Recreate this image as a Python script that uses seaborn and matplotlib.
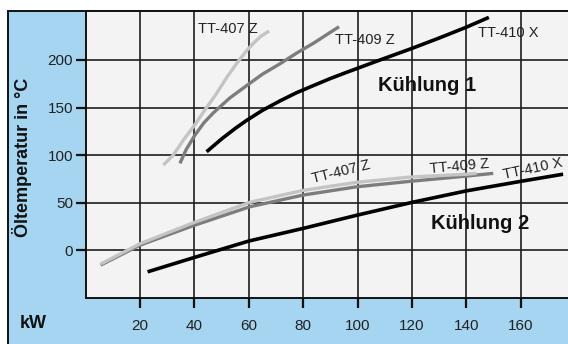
import pandas as pd
import matplotlib.pyplot as plt
import seaborn as sns
from matplotlib.patches import Rectangle


# Kühlung 1
k1_407_x = [28.6, 32.2, 36, 40.2, 44, 48.2, 52, 56.1, 59, 61.7, 64.5, 67.5]
k1_407_y = [89.6, 100, 116, 132, 148, 165, 182, 198.5, 209, 217.5, 225, 230.4]
k1_409_x = [34.7, 37, 40.2, 43.5, 47, 53, 59.2, 65, 71.5, 77.5, 83.7, 93.2]
k1_409_y = [91.4, 106, 121, 134, 144.5, 160, 173, 185, 196, 207, 217.4, 234.9]
k1_410_x = [44.5, 50, 55, 59.2, 65, 71.5, 77.5, 83.7, 90, 96, 108.3, 119.9, 130, 140.1, 148.3]
k1_410_y = [103.6, 117, 128, 136.5, 147, 157, 165.5, 173, 180.5, 187, 200, 212, 223, 234.5, 244.7]

# Kühlung 2
k2_407_x = [5.5, 20, 39.6, 60.4, 80, 99.7, 119.3, 140, 143.8]
k2_407_y = [-14.4, 7, 29, 50.5, 63, 71.5, 77, 80, 80.9]
k2_409_x = [5.5, 20, 39.6, 60.4, 80, 99.7, 119.3, 140, 149.9]
k2_409_y = [-15.5, 5.5, 26, 45.8, 58.1, 66.8, 72.5, 78, 80.9]
k2_410_x = [22.8, 40, 60, 80, 100, 120, 140, 160, 175.6]
k2_410_y = [-22.5, -7.4, 9.8, 23.1, 37.1, 50.4, 62.5, 72.5, 80]

x_ticks = [20, 40, 60, 80, 100, 120, 140, 160]
y_ticks = [0, 50, 100, 150, 200]

curves = {
    "k1_407": (k1_407_x, k1_407_y),
    "k1_409": (k1_409_x, k1_409_y),
    "k1_410": (k1_410_x, k1_410_y),
    "k2_407": (k2_407_x, k2_407_y),
    "k2_409": (k2_409_x, k2_409_y),
    "k2_410": (k2_410_x, k2_410_y),
}
rows = []
for name, (xs, ys) in curves.items():
    for xv, yv in zip(xs, ys):
        rows.append({"curve": name, "kw": xv, "temp": yv})
df = pd.DataFrame(rows)

light = "#c4c4c4"
mid = "#7d7d7d"
palette = {"k1_407": light, "k1_409": mid, "k1_410": "#000000",
           "k2_407": light, "k2_409": mid, "k2_410": "#000000"}

sns.set_style("ticks")
plt.rcParams['font.family'] = ['Liberation Sans', 'DejaVu Sans']

W, H = 568, 344
fig = plt.figure(figsize=(W / 100, H / 100), dpi=100)
fig.patch.set_facecolor("white")

# blue frame behind the plot
fig.patches.append(Rectangle((8 / W, -0.01), 1.0, 1 - 11 / H + 0.01, transform=fig.transFigure,
                             facecolor="#a5d5f1", edgecolor="#111111", linewidth=1.4,
                             zorder=-10, figure=fig))

ax_w, ax_h = W - 85.6, 298 - 11
ax = fig.add_axes([85.6 / W, 46 / H, ax_w / W, ax_h / H])
ax.set_zorder(5)
ax.set_facecolor("#f3f3f3")

ax.grid(True, color="#1e1e1e", linewidth=1.2)

# mid gray drawn first in Kühlung 2 so the light one sits on top
for name in ["k1_407", "k1_409", "k1_410", "k2_409", "k2_407", "k2_410"]:
    sub = df[df["curve"] == name]
    sns.lineplot(data=sub, x="kw", y="temp", sort=False, estimator=None,
                 color=palette[name], linewidth=2.6 if name.endswith("410") else 2.4,
                 solid_capstyle="butt", solid_joinstyle="round", ax=ax, zorder=3)

ax.set_xlim(0, 177.4)
ax.set_ylim(-50, 251.4)
ax.set_xticks(x_ticks)
ax.set_yticks(y_ticks)
ax.tick_params(axis="both", which="major", direction="out", length=7, width=1.6,
               color="#111111", labelsize=11, labelcolor="#222222",
               bottom=True, left=True)
ax.tick_params(axis="x", pad=8)
ax.tick_params(axis="y", pad=2)
ax.set_xlabel("")
ax.set_ylabel("")

for side in ["left", "bottom", "top"]:
    ax.spines[side].set_color("#111111")
    ax.spines[side].set_linewidth(1.4)
ax.spines["right"].set_visible(False)

fig.text(22 / W, 1 - 157 / H, "Öltemperatur in °C", rotation=90, ha="center", va="center",
         fontsize=13, fontweight="bold", color="#111111")
fig.text(33 / W, 1 - 324 / H, "kW", ha="center", va="center",
         fontsize=13, fontweight="bold", color="#111111")

lab = dict(fontsize=10.5, color="#222222", ha="center", va="center", rotation_mode="anchor")
ax.text(52.5, 233, "TT-407 Z", **lab)
ax.text(102.7, 221, "TT-409 Z", **lab)
ax.text(155.4, 228, "TT-410 X", **lab)
ax.text(93.8, 82.6, "TT-407 Z", rotation=14, **lab)
ax.text(137.4, 87.8, "TT-409 Z", rotation=5, **lab)
ax.text(164.6, 86.1, "TT-410 X", rotation=12, **lab)

ax.text(125.4, 173.6, "Kühlung 1", fontsize=14.5, fontweight="bold", color="#111111",
        ha="center", va="center")
ax.text(145, 28.7, "Kühlung 2", fontsize=14.5, fontweight="bold", color="#111111",
        ha="center", va="center")

fig.savefig("out.png", dpi=100)
